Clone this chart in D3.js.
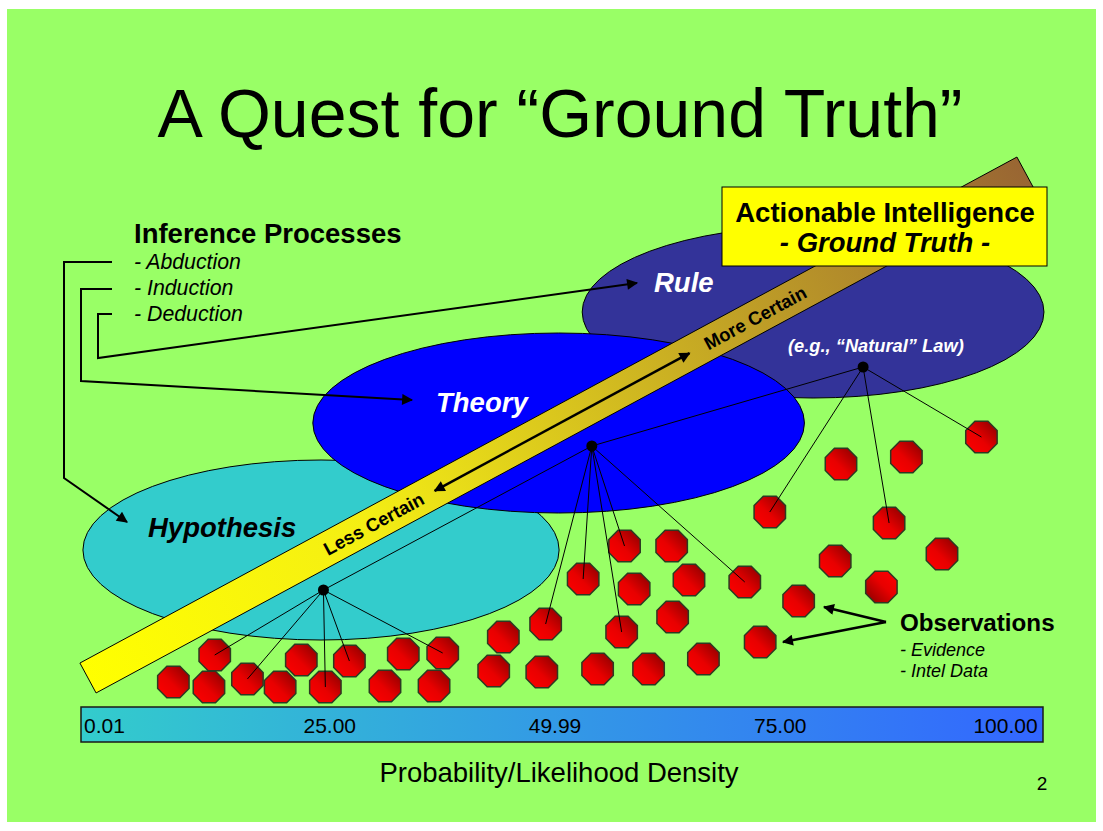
<!DOCTYPE html>
<html>
<head>
<meta charset="utf-8">
<script src="https://cdn.jsdelivr.net/npm/d3@7"></script>
<style>
  body { margin: 0; background: #fff; }
  svg { display: block; font-family: "Liberation Sans", Arial, sans-serif; }
</style>
</head>
<body>
<svg id="slide" width="1103" height="831"></svg>
<script>
// ---- data (x = probability 0..100, y = certainty 0..100) ----
const tickLabels = ["0.01", "25.00", "49.99", "75.00", "100.00"];

const levelNames = ["Hypothesis", "Theory", "Rule"];
const levelProbLo = [0.2, 24.1, 52.1];
const levelProbHi = [49.7, 75.2, 100.1];
const levelCertLo = [12.0, 37.4, 60.4];
const levelCertHi = [48.0, 73.4, 94.8];

// observations (evidence / intel data)
const obsProb = [13.9, 9.6, 13.3, 17.3, 20.7, 22.9, 25.4, 27.9, 33.5, 31.6, 37.6, 36.7,
                 56.5, 61.4, 52.2, 57.5, 63.2, 69.0, 48.3, 56.2, 61.5, 43.9, 42.9, 47.9,
                 53.7, 59.0, 64.7, 70.6,
                 93.6, 79.0, 85.8, 71.6, 84.0, 78.4, 89.5, 83.2, 74.6];
const obsCert = [9.0, 3.6, 2.6, 4.2, 2.6, 8.0, 2.6, 7.8, 9.2, 2.8, 9.4, 2.8,
                 30.8, 30.8, 24.2, 22.2, 24.0, 23.6, 15.2, 13.6, 16.6, 12.6, 5.8, 5.6,
                 6.2, 6.2, 8.2, 11.6,
                 52.6, 47.2, 48.6, 37.6, 35.4, 27.8, 29.2, 22.6, 19.8];

// inference hubs and the observations each one draws on
const hubProb = [25.2, 53.1, 81.3];
const hubCert = [22.0, 50.8, 66.6];
const hubLinks = [[0, 3, 6, 7, 10], [18, 14, 12, 19, 17], [31, 32, 28]];

const processes = ["- Abduction", "- Induction", "- Deduction"];

// ---- scales ----
var svg = d3.select("#slide");
var x = d3.scaleLinear().domain([0, 100]).range([81, 1043]);
var y = d3.scaleLinear().domain([0, 100]).range([700, 200]);

var defs = svg.append("defs");

var octGrad = defs.append("linearGradient").attr("id", "oct")
  .attr("x1", 0).attr("y1", 1).attr("x2", 1).attr("y2", 0);
octGrad.append("stop").attr("offset", 0).attr("stop-color", "#ff0000");
octGrad.append("stop").attr("offset", 0.45).attr("stop-color", "#e80000");
octGrad.append("stop").attr("offset", 1).attr("stop-color", "#860000");

var octGrad2 = defs.append("linearGradient").attr("id", "oct2")
  .attr("x1", 1).attr("y1", 0).attr("x2", 0).attr("y2", 1);
octGrad2.append("stop").attr("offset", 0).attr("stop-color", "#ff0000");
octGrad2.append("stop").attr("offset", 0.45).attr("stop-color", "#e80000");
octGrad2.append("stop").attr("offset", 1).attr("stop-color", "#860000");

var axGrad = defs.append("linearGradient").attr("id", "axis");
axGrad.append("stop").attr("offset", 0).attr("stop-color", "#33cccc");
axGrad.append("stop").attr("offset", 1).attr("stop-color", "#3366ff");

// certainty bar runs from lower left to upper right
var barStart = [88, 678], barEnd = [1025, 172], barW = 34;
var barGrad = defs.append("linearGradient").attr("id", "bar")
  .attr("gradientUnits", "userSpaceOnUse")
  .attr("x1", barStart[0]).attr("y1", barStart[1])
  .attr("x2", barEnd[0]).attr("y2", barEnd[1]);
barGrad.append("stop").attr("offset", 0).attr("stop-color", "#ffff00");
barGrad.append("stop").attr("offset", 0.3).attr("stop-color", "#f4ee14");
barGrad.append("stop").attr("offset", 1).attr("stop-color", "#996633");

defs.append("marker").attr("id", "arrow")
  .attr("viewBox", "0 0 10 10").attr("refX", 9).attr("refY", 5)
  .attr("markerWidth", 14).attr("markerHeight", 11)
  .attr("markerUnits", "userSpaceOnUse").attr("orient", "auto-start-reverse")
  .append("path").attr("d", "M0,0L10,5L0,10z").attr("fill", "#000");

// background
svg.append("rect").attr("x", 7).attr("y", 9).attr("width", 1089).attr("height", 813)
  .attr("fill", "#99ff66");

svg.append("text").attr("x", 560).attr("y", 137).attr("text-anchor", "middle")
  .attr("font-size", 68).text("A Quest for \u201cGround Truth\u201d");

// ellipses: hypothesis, rule, then theory on top
var levelFill = ["#33cccc", "#0000ff", "#333399"];
[0, 2, 1].forEach(function(i) {
  svg.append("ellipse")
    .attr("cx", (x(levelProbLo[i]) + x(levelProbHi[i])) / 2)
    .attr("cy", (y(levelCertLo[i]) + y(levelCertHi[i])) / 2)
    .attr("rx", (x(levelProbHi[i]) - x(levelProbLo[i])) / 2)
    .attr("ry", (y(levelCertLo[i]) - y(levelCertHi[i])) / 2)
    .attr("fill", levelFill[i]).attr("stroke", "#000").attr("stroke-width", 1);
});

// the bar
var dx = barEnd[0] - barStart[0], dy = barEnd[1] - barStart[1];
var len = Math.hypot(dx, dy);
var nx = -dy / len * barW / 2, ny = dx / len * barW / 2;
var angle = Math.atan2(dy, dx) * 180 / Math.PI;
svg.append("path")
  .attr("d", d3.line()([
    [barStart[0] - nx, barStart[1] - ny], [barStart[0] + nx, barStart[1] + ny],
    [barEnd[0] + nx, barEnd[1] + ny], [barEnd[0] - nx, barEnd[1] - ny]]) + "Z")
  .attr("fill", "url(#bar)").attr("stroke", "#000").attr("stroke-width", 1);

function along(t) { return [barStart[0] + dx * t, barStart[1] + dy * t]; }

var a0 = along(0.370), a1 = along(0.642);
svg.append("line").attr("x1", a1[0]).attr("y1", a1[1]).attr("x2", a0[0]).attr("y2", a0[1])
  .attr("stroke", "#000").attr("stroke-width", 2.5)
  .attr("marker-start", "url(#arrow)").attr("marker-end", "url(#arrow)");

[["Less Certain", 0.305], ["More Certain", 0.712]].forEach(function(d) {
  var p = along(d[1]);
  svg.append("text")
    .attr("transform", "translate(" + p[0] + "," + p[1] + ") rotate(" + angle + ")")
    .attr("text-anchor", "middle").attr("dy", "0.36em")
    .attr("font-size", 18.5).attr("font-weight", "bold").text(d[0]);
});

// observations
var R = 17;
var octagon = d3.range(8).map(function(k) {
  var a = Math.PI / 8 + k * Math.PI / 4;
  return [R * Math.cos(a), R * Math.sin(a)];
});
svg.append("g").selectAll("path")
  .data(obsProb.map(function(p, i) { return [x(p), y(obsCert[i]), i]; }))
  .join("path")
  .attr("transform", d => "translate(" + d[0] + "," + d[1] + ")")
  .attr("d", d3.line()(octagon) + "Z")
  .attr("fill", d => d[2] === 35 ? "url(#oct2)" : "url(#oct)")
  .attr("stroke", "#2c3a22").attr("stroke-width", 1.5);

// links from hubs to observations and between hubs
var links = [];
hubLinks.forEach(function(list, h) {
  list.forEach(function(o) {
    links.push([x(hubProb[h]), y(hubCert[h]), x(obsProb[o]), y(obsCert[o])]);
  });
});
links.push([x(hubProb[0]), y(hubCert[0]), x(hubProb[1]), y(hubCert[1])]);
links.push([x(hubProb[1]), y(hubCert[1]), x(hubProb[2]), y(hubCert[2])]);
svg.append("g").selectAll("line").data(links).join("line")
  .attr("x1", d => d[0]).attr("y1", d => d[1]).attr("x2", d => d[2]).attr("y2", d => d[3])
  .attr("stroke", "#000").attr("stroke-width", 1);

svg.append("g").selectAll("circle").data(hubProb).join("circle")
  .attr("cx", d => x(d)).attr("cy", (d, i) => y(hubCert[i])).attr("r", 5.5)
  .attr("fill", "#000");

// level labels
svg.append("text").attr("x", 148).attr("y", 537).attr("font-size", 27.5)
  .attr("font-weight", "bold").attr("font-style", "italic").text(levelNames[0]);
svg.append("text").attr("x", 436).attr("y", 412).attr("font-size", 27.5).attr("fill", "#fff")
  .attr("font-weight", "bold").attr("font-style", "italic").text(levelNames[1]);
svg.append("text").attr("x", 654).attr("y", 292).attr("font-size", 27.5).attr("fill", "#fff")
  .attr("font-weight", "bold").attr("font-style", "italic").text(levelNames[2]);
svg.append("text").attr("x", 788).attr("y", 352).attr("font-size", 18.3).attr("fill", "#fff")
  .attr("font-weight", "bold").attr("font-style", "italic")
  .text("(e.g., \u201cNatural\u201d Law)");

// actionable intelligence box
svg.append("rect").attr("x", 722).attr("y", 187).attr("width", 325).attr("height", 79)
  .attr("fill", "#ffff00").attr("stroke", "#000").attr("stroke-width", 1);
svg.append("text").attr("x", 885).attr("y", 222).attr("text-anchor", "middle")
  .attr("font-size", 27.5).attr("font-weight", "bold").text("Actionable Intelligence");
svg.append("text").attr("x", 885).attr("y", 252).attr("text-anchor", "middle")
  .attr("font-size", 27.5).attr("font-weight", "bold").attr("font-style", "italic")
  .text("- Ground Truth -");

// inference processes
svg.append("text").attr("x", 134).attr("y", 243).attr("font-size", 27.5)
  .attr("font-weight", "bold").text("Inference Processes");
svg.append("g").selectAll("text").data(processes).join("text")
  .attr("x", 134).attr("y", (d, i) => 269 + i * 26)
  .attr("font-size", 21.3).attr("font-style", "italic").text(d => d);

var connectors = [
  [[112, 262], [64, 262], [64, 478], [127, 522]],
  [[112, 289], [81, 289], [81, 381], [412, 400]],
  [[112, 314], [98, 314], [98, 358], [637, 283]]
];
svg.append("g").selectAll("path").data(connectors).join("path")
  .attr("d", d => d3.line()(d))
  .attr("fill", "none").attr("stroke", "#000").attr("stroke-width", 2)
  .attr("marker-end", "url(#arrow)");

// observations legend
svg.append("text").attr("x", 900).attr("y", 631).attr("font-size", 24.2)
  .attr("font-weight", "bold").text("Observations");
svg.append("text").attr("x", 900).attr("y", 656).attr("font-size", 18)
  .attr("font-style", "italic").text("- Evidence");
svg.append("text").attr("x", 900).attr("y", 677).attr("font-size", 18)
  .attr("font-style", "italic").text("- Intel Data");
[[824, 607], [783, 642]].forEach(function(t) {
  svg.append("line").attr("x1", 886).attr("y1", 622).attr("x2", t[0]).attr("y2", t[1])
    .attr("stroke", "#000").attr("stroke-width", 2.5).attr("marker-end", "url(#arrow)");
});

// probability axis
svg.append("rect").attr("x", x(0)).attr("y", 707).attr("width", x(100) - x(0)).attr("height", 35)
  .attr("fill", "url(#axis)").attr("stroke", "#1a1a1a").attr("stroke-width", 1.5);
var tickScale = d3.scalePoint().domain(tickLabels).range([104, 1005]);
svg.append("g").attr("transform", "translate(0,733)")
  .call(d3.axisBottom(tickScale).tickSize(0).tickPadding(0))
  .attr("font-size", 21).attr("font-family", null)
  .call(g => g.select(".domain").remove())
  .call(g => g.selectAll("text").attr("y", 0).attr("dy", null).attr("fill", "#000"));

svg.append("text").attr("x", 559).attr("y", 782).attr("text-anchor", "middle")
  .attr("font-size", 27.5).text("Probability/Likelihood Density");
svg.append("text").attr("x", 1042).attr("y", 790).attr("text-anchor", "middle")
  .attr("font-size", 19).text("2");
</script>
</body>
</html>
